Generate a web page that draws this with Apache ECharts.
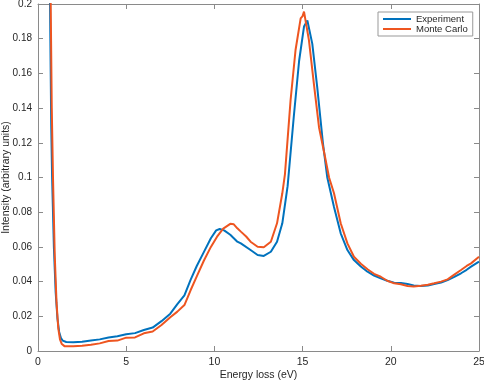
<!DOCTYPE html>
<html>
<head>
<meta charset="utf-8">
<script src="https://cdn.jsdelivr.net/npm/echarts@6/dist/echarts.min.js"></script>
<style>
  html, body { margin: 0; padding: 0; background: #fff; }
  #chart { width: 484px; height: 383px; }
</style>
</head>
<body>
<div id="chart"></div>
<script>
// Experiment (blue) - energy loss (eV) and intensity
const expX = [0.6, 0.7, 0.75, 0.8, 0.9, 1.0, 1.1, 1.2, 1.3, 1.4, 1.6, 2.0, 2.5, 3.0, 3.5, 4.0, 4.5, 5.0, 5.5, 6.0,
  6.5, 7.0, 7.5, 7.9, 8.3, 8.65, 9.0, 9.4, 9.8, 10.1, 10.3, 10.55, 10.9, 11.3, 11.5, 12.05, 12.45, 12.8, 13.2, 13.55,
  13.85, 14.15, 14.5, 14.8, 15.08, 15.27, 15.55, 15.83, 16.15, 16.4, 16.78, 17.16, 17.54, 17.91, 18.3, 18.68, 19.05, 19.43, 19.8, 20.19,
  20.57, 20.95, 21.3, 21.7, 22.1, 22.46, 22.85, 23.22, 23.6, 23.98, 24.3, 24.55, 25.0];
const expY = [0.30, 0.18, 0.13, 0.10, 0.06, 0.034, 0.019, 0.011, 0.0075, 0.006, 0.0052, 0.005, 0.0053, 0.006, 0.0067, 0.0078, 0.0085, 0.0096, 0.0103, 0.0121,
  0.0135, 0.0172, 0.0215, 0.027, 0.032, 0.041, 0.049, 0.057, 0.065, 0.0695, 0.0703, 0.0695, 0.067, 0.063, 0.062, 0.0582, 0.0553, 0.0548, 0.0572, 0.063,
  0.0736, 0.095, 0.135, 0.167, 0.187, 0.1905, 0.177, 0.152, 0.12, 0.1, 0.083, 0.0678, 0.0582, 0.0524, 0.0487, 0.0457, 0.0435, 0.0419, 0.0405, 0.0394,
  0.0392, 0.0386, 0.0378, 0.0375, 0.0378, 0.0386, 0.0395, 0.0409, 0.0427, 0.0448, 0.0468, 0.0486, 0.0515];

// Monte Carlo (orange)
const mcX = [0.65, 0.72, 0.78, 0.85, 0.95, 1.05, 1.15, 1.25, 1.35, 1.5, 2.0, 2.5, 3.0, 3.5, 4.0, 4.5, 5.0, 5.5, 6.0, 6.5,
  7.0, 7.5, 7.9, 8.3, 8.65, 9.0, 9.4, 9.8, 10.15, 10.5, 10.9, 11.1, 11.3, 11.5, 11.8, 12.05, 12.45, 12.8, 13.2, 13.55,
  13.85, 14.0, 14.32, 14.6, 14.89, 15.0, 15.08, 15.36, 15.64, 15.93, 16.25, 16.5, 16.78, 17.16, 17.54, 17.91, 18.3, 18.68, 19.05, 19.43,
  19.8, 20.19, 20.57, 20.95, 21.3, 21.7, 22.1, 22.46, 22.85, 23.22, 23.6, 23.98, 24.3, 24.55, 25.0];
const mcY = [0.30, 0.20, 0.14, 0.10, 0.055, 0.028, 0.013, 0.0065, 0.004, 0.0028, 0.0027, 0.003, 0.0036, 0.0044, 0.0058, 0.006, 0.0077, 0.0078, 0.0102, 0.0112,
  0.015, 0.0195, 0.0227, 0.0265, 0.035, 0.043, 0.052, 0.060, 0.0659, 0.0705, 0.0733, 0.073, 0.0707, 0.0688, 0.066, 0.063, 0.0601, 0.0598, 0.063, 0.0736,
  0.0909, 0.102, 0.1447, 0.1735, 0.1917, 0.193, 0.1956, 0.179, 0.154, 0.129, 0.113, 0.1, 0.0909, 0.0736, 0.062, 0.0543, 0.0503, 0.0471, 0.0445, 0.0428,
  0.0405, 0.039, 0.0385, 0.0375, 0.0372, 0.0376, 0.0382, 0.039, 0.04, 0.0413, 0.044, 0.0467, 0.049, 0.0505, 0.0543];

const seriesNames = ['Experiment', 'Monte Carlo'];
const xTicks = {min: 0, max: 25, interval: 5};
const yTicks = {min: 0, max: 0.2, interval: 0.02};

const pairs = (xs, ys) => xs.map((x, i) => [x, ys[i]]);

const axisGray = '#8a8a8a';
const textColor = '#262626';
const font = 'Liberation Sans, Arial, Helvetica, sans-serif';

function frameAxis(extra) {
    return Object.assign({
        type: 'value',
        axisLine: {show: true, onZero: false, lineStyle: {color: axisGray, width: 1}},
        axisTick: {show: true, inside: true, length: 5, lineStyle: {color: axisGray}},
        splitLine: {show: false},
        axisLabel: {show: false}
    }, extra);
}

const option = {
    animation: false,
    backgroundColor: '#fff',
    textStyle: {fontFamily: font},
    grid: {left: 38, right: 5, top: 4, bottom: 32, containLabel: false, outerBoundsMode: 'none'},
    legend: {
        data: seriesNames,
        orient: 'vertical',
        left: 378,
        top: 12,
        itemWidth: 28,
        itemHeight: 2,
        itemGap: 0,
        icon: 'rect',
        padding: [2, 5, 2, 5],
        borderColor: '#999',
        borderWidth: 1,
        borderRadius: 0,
        backgroundColor: '#fff',
        textStyle: {fontSize: 9.5, color: textColor, fontFamily: font}
    },
    xAxis: [
        frameAxis(Object.assign({
            position: 'bottom',
            name: 'Energy loss (eV)',
            nameLocation: 'middle',
            nameGap: 19,
            nameMoveOverlap: false,
            nameTextStyle: {fontSize: 10.5, color: textColor, fontFamily: font},
            axisLabel: {show: true, fontSize: 10.5, color: textColor, margin: 6, fontFamily: font}
        }, xTicks)),
        frameAxis(Object.assign({position: 'top'}, xTicks))
    ],
    yAxis: [
        frameAxis(Object.assign({
            position: 'left',
            name: 'Intensity (arbitrary units)',
            nameLocation: 'middle',
            nameGap: 26,
            nameMoveOverlap: false,
            nameTextStyle: {fontSize: 10.5, color: textColor, fontFamily: font},
            axisLabel: {show: true, fontSize: 10, color: textColor, margin: 6, fontFamily: font}
        }, yTicks)),
        frameAxis(Object.assign({position: 'right'}, yTicks))
    ],
    series: [
        {
            name: seriesNames[0],
            type: 'line',
            data: pairs(expX, expY),
            showSymbol: false,
            symbol: 'none',
            clip: true,
            lineStyle: {color: '#0072BD', width: 2},
            itemStyle: {color: '#0072BD'}
        },
        {
            name: seriesNames[1],
            type: 'line',
            data: pairs(mcX, mcY),
            showSymbol: false,
            symbol: 'none',
            clip: true,
            lineStyle: {color: '#EE5520', width: 2},
            itemStyle: {color: '#EE5520'}
        }
    ]
};

const chart = echarts.init(document.getElementById('chart'), null, {renderer: 'canvas'});
chart.setOption(option);
</script>
</body>
</html>
